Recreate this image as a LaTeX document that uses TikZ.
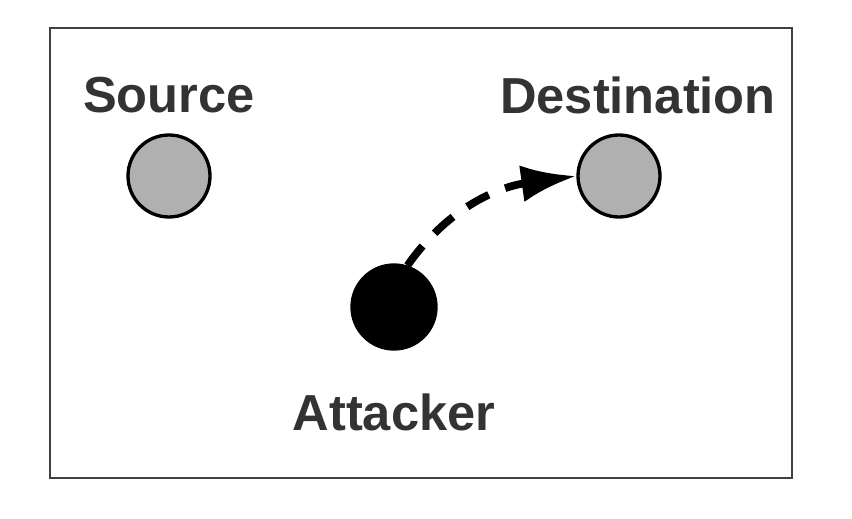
\documentclass[tikz,border=0pt]{standalone}
\usepackage{fontspec}
\setmainfont{Liberation Sans}
\usepackage{tikz}
\usetikzlibrary{arrows.meta,positioning}
\definecolor{nodegray}{HTML}{B0B0B0}
\definecolor{textgray}{HTML}{333333}

\begin{document}
\begin{tikzpicture}[>={Latex[length=1.1cm,width=0.74cm]},
    host/.style={draw, circle, line width=1.9pt, minimum size=1.64cm, inner sep=0pt},
    lbl/.style={text=textgray, font=\fontsize{28.8}{34}\selectfont\bfseries}]
    \useasboundingbox (0,0) rectangle (17.04,10.36);
    \draw[line width=1.2pt, color=black!75] (1.0,0.8) rectangle (15.84,9.8);
    % hosts
    \node[host, fill=nodegray] (src) at (3.38,6.84) {};
    \node[host, fill=nodegray] (dst) at (12.38,6.84) {};
    \node[host, fill=black, minimum size=1.68cm] (att) at (7.88,4.22) {};
    % labels
    \node[lbl] (srclbl) at (3.38,8.46) {Source};
    \node[lbl] (dstlbl) at (12.76,8.46) {Destination};
    \node[lbl] (attlbl) at (7.88,2.12) {Attacker};
    % attack path
    \draw[->, line width=4.4pt, dash pattern=on 14pt off 10pt]
        (att.72) to[out=55, in=188] (dst.west);
\end{tikzpicture}
\end{document}
